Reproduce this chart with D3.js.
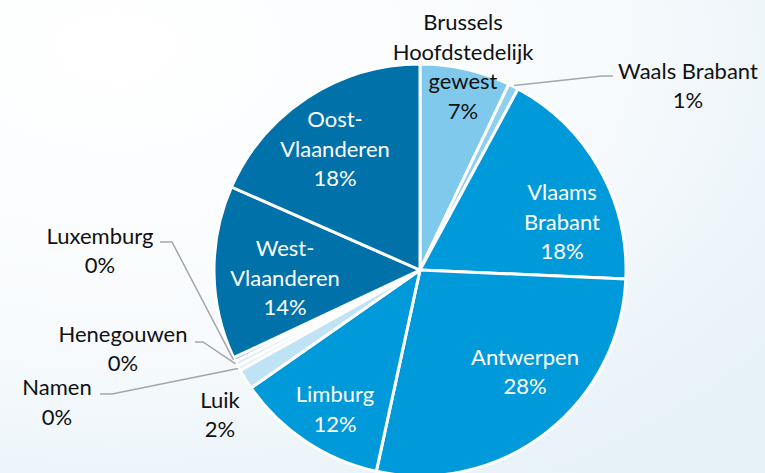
<!DOCTYPE html>
<html>
<head>
<meta charset="utf-8">
<script src="https://cdn.jsdelivr.net/npm/d3@7"></script>
<style>
  html, body { margin: 0; padding: 0; background: #fff; }
  svg { display: block; }
  text { font-family: Lato, "Open Sans", sans-serif; }
</style>
</head>
<body>
<svg id="chart" width="765" height="473"></svg>
<script>
// Provinces, clockwise from 12 o'clock
const provinces = [
  "Brussels Hoofdstedelijk gewest", "Waals Brabant", "Vlaams Brabant", "Antwerpen",
  "Limburg", "Luik", "Namen", "Henegouwen", "Luxemburg", "West-Vlaanderen", "Oost-Vlaanderen"
];
// Share per province (%)
const shares = [7.1, 0.8, 17.8, 27.7, 11.9, 1.6, 0.4, 0.4, 0.3, 13.6, 18.4];
// Label lines per province (name part)
const labelLines = [
  ["Brussels", "Hoofdstedelijk", "gewest"], ["Waals Brabant"], ["Vlaams", "Brabant"], ["Antwerpen"],
  ["Limburg"], ["Luik"], ["Namen"], ["Henegouwen"], ["Luxemburg"], ["West-", "Vlaanderen"], ["Oost-", "Vlaanderen"]
];
const sliceColors = [
  "#7fc9ec", "#8fd0ef", "#0099da", "#0099da", "#0099da", "#bfe3f5",
  "#e6f0f9", "#dce8f5", "#7fa3d9", "#0072a9", "#0072a9"
];

const width = 765, height = 473;
const cx = 420, cy = 270, radius = 206;

const svg = d3.select("#chart");

// soft backdrop
const defs = svg.append("defs");
const bg = defs.append("radialGradient").attr("id", "bg")
  .attr("cx", "15%").attr("cy", "10%").attr("r", "110%");
bg.append("stop").attr("offset", "0%").attr("stop-color", "#ffffff");
bg.append("stop").attr("offset", "55%").attr("stop-color", "#f8fbfd");
bg.append("stop").attr("offset", "100%").attr("stop-color", "#e6f1f8");
svg.append("rect").attr("width", width).attr("height", height).attr("fill", "url(#bg)");

const data = provinces.map((p, i) => ({ name: p, value: shares[i], lines: labelLines[i], color: sliceColors[i] }));

const pie = d3.pie().sort(null).value(d => d.value);
const arcs = pie(data);
const arc = d3.arc().innerRadius(0).outerRadius(radius);

const g = svg.append("g").attr("transform", `translate(${cx},${cy})`);

g.selectAll("path.slice")
  .data(arcs)
  .join("path")
  .attr("class", "slice")
  .attr("d", arc)
  .attr("fill", d => d.data.color)
  .attr("stroke", "#ffffff")
  .attr("stroke-width", 3)
  .attr("stroke-linejoin", "round");

// label layout: text block centre relative to pie centre, colour, and optional leader elbow
const layout = {
  "Brussels Hoofdstedelijk gewest": { x: 43, y: -203, fill: "#111" },
  "Waals Brabant": { x: 268, y: -184, fill: "#111", leader: { elbow: [182, -194], end: [193, -194] } },
  "Vlaams Brabant": { x: 142, y: -48, fill: "#fff" },
  "Antwerpen": { x: 105, y: 102, fill: "#fff" },
  "Limburg": { x: -85, y: 139.5, fill: "#fff" },
  "Luik": { x: -200, y: 145, fill: "#111" },
  "Namen": { x: -363, y: 132.5, fill: "#111", leader: { elbow: [-308, 124], end: [-320, 124] } },
  "Henegouwen": { x: -297, y: 79, fill: "#111", leader: { elbow: [-217, 72], end: [-225, 72] } },
  "Luxemburg": { x: -320, y: -19, fill: "#111", leader: { elbow: [-248, -28], end: [-260, -28] } },
  "West-Vlaanderen": { x: -135, y: 8, fill: "#fff" },
  "Oost-Vlaanderen": { x: -85, y: -121, fill: "#fff" }
};

const lineH = 29.5;
const fontSize = 22;

// leader lines for the small outside labels
arcs.forEach(a => {
  const L = layout[a.data.name];
  if (!L.leader) return;
  const mid = (a.startAngle + a.endAngle) / 2;
  const r0 = radius + 1;
  const p0 = [Math.sin(mid) * r0, -Math.cos(mid) * r0];
  g.append("path")
    .attr("d", d3.line()([p0, L.leader.elbow, L.leader.end]))
    .attr("fill", "none")
    .attr("stroke", "#a6a6a6")
    .attr("stroke-width", 1.5);
});

arcs.forEach(a => {
  const L = layout[a.data.name];
  const lines = a.data.lines.concat([Math.round(a.data.value) + "%"]);
  const top = L.y - (lines.length - 1) * lineH / 2;
  const t = g.append("text")
    .attr("text-anchor", "middle")
    .attr("fill", L.fill)
    .attr("font-size", fontSize);
  lines.forEach((s, i) => {
    t.append("tspan")
      .attr("x", L.x)
      .attr("y", top + i * lineH)
      .attr("dy", "0.35em")
      .text(s);
  });
});
</script>
</body>
</html>
